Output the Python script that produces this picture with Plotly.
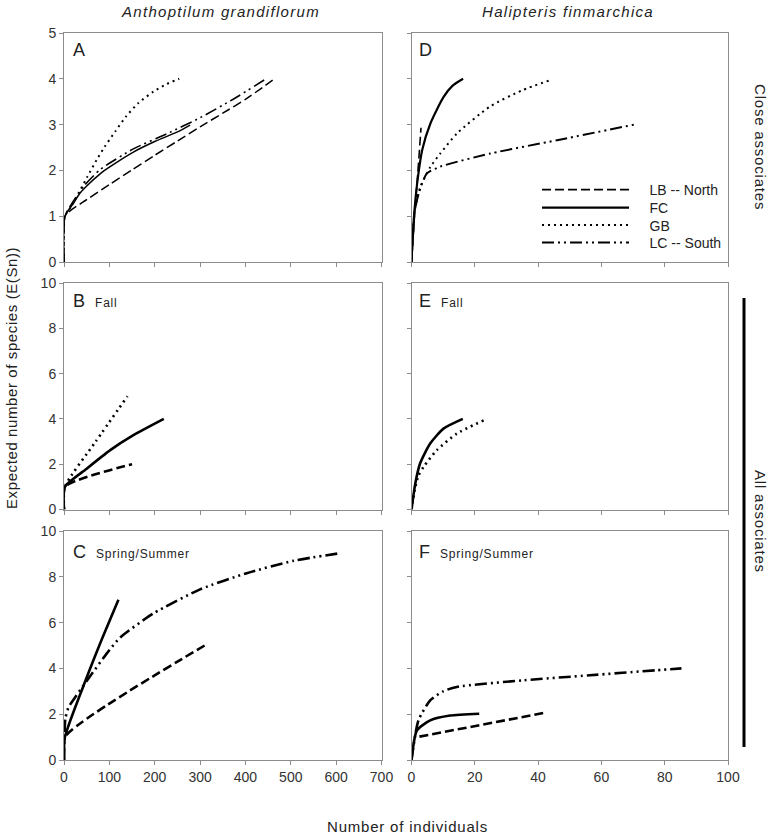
import plotly.graph_objects as go

W, H = 773, 836

# ---------------- data ----------------
# Panel A  (Anthoptilum grandiflorum, close associates)
A_LB_x = [0, 2, 50, 100, 150, 200, 250, 300, 350, 400, 460]
A_LB_y = [0, 1, 1.36, 1.69, 2.01, 2.33, 2.64, 2.95, 3.25, 3.55, 3.97]
A_FC_x = [0, 2, 20, 35, 50, 79, 100, 153, 200, 250, 278]
A_FC_y = [0, 1, 1.27, 1.5, 1.66, 1.92, 2.07, 2.4, 2.63, 2.84, 2.99]
A_GB_x = [0, 2, 13, 32, 52, 72, 90, 113, 137, 164, 197, 225, 254]
A_GB_y = [0, 1, 1.17, 1.5, 1.87, 2.23, 2.52, 2.85, 3.18, 3.47, 3.72, 3.88, 4.0]
A_LC_x = [0, 2, 13, 43, 80, 153, 227, 300, 374, 444]
A_LC_y = [0, 1, 1.21, 1.65, 2.02, 2.47, 2.8, 3.15, 3.56, 3.99]

# Panel D  (Halipteris finmarchica, close associates)
D_LB_x = [0, 1, 2, 3]
D_LB_y = [0, 1.05, 1.95, 2.93]
D_FC_x = [0, 0.8, 1.8, 3.4, 6, 10.1, 13, 16.3]
D_FC_y = [0, 1.0, 1.72, 2.45, 3.03, 3.6, 3.85, 4.0]
D_GB_x = [0, 1, 2.8, 6, 9.1, 14.4, 24.9, 35, 43.8]
D_GB_y = [0, 1.1, 1.64, 2.08, 2.37, 2.81, 3.4, 3.75, 3.97]
D_LC_x = [0, 1, 2.3, 4.8, 9, 25, 46, 70.4]
D_LC_y = [0, 1.1, 1.5, 1.93, 2.08, 2.37, 2.66, 3.0]

# Panel B  (Anthoptilum, all associates, Fall)
B_GB_x = [0, 2, 70, 140]
B_GB_y = [0, 1, 3.0, 5.0]
B_FC_x = [0, 2, 50, 102, 153, 220]
B_FC_y = [0, 1, 1.8, 2.62, 3.28, 4.0]
B_LB_x = [0, 2, 150]
B_LB_y = [0, 1, 2.0]

# Panel C  (Anthoptilum, all associates, Spring/Summer)
C_FC_x = [0, 2, 50, 85, 120]
C_FC_y = [0, 1, 3.6, 5.35, 7.0]
C_LC_x = [0, 3, 10, 25, 50, 100, 124, 197, 300, 403, 506, 609]
C_LC_y = [0, 1.8, 2.3, 2.75, 3.45, 4.8, 5.35, 6.4, 7.45, 8.16, 8.7, 9.03]
C_LB_x = [0, 2, 310]
C_LB_y = [0, 1, 5.0]

# Panel E  (Halipteris, all associates, Fall)
E_FC_x = [0, 1.2, 2.7, 5.9, 10.1, 16.2]
E_FC_y = [0, 1.15, 2.03, 2.91, 3.57, 4.0]
E_GB_x = [0, 1.2, 2.2, 3.8, 8, 14.3, 22.9]
E_GB_y = [0, 1.0, 1.5, 1.88, 2.62, 3.35, 3.94]

# Panel F  (Halipteris, all associates, Spring/Summer)
F_LC_x = [0, 2.2, 5.9, 10, 14.3, 35.3, 56.4, 77.4, 85.3]
F_LC_y = [0, 1.73, 2.6, 3.0, 3.19, 3.48, 3.7, 3.92, 4.0]
F_FC_x = [0, 1.7, 5.9, 12.2, 21.4]
F_FC_y = [0, 1.29, 1.73, 1.94, 2.02]
F_LB_x = [2.5, 41.6]
F_LB_y = [1.02, 2.05]

series_names = {"LB": "LB -- North", "FC": "FC", "GB": "GB", "LC": "LC -- South"}
legend_order = ["LB", "FC", "GB", "LC"]
left_xticks = [0, 100, 200, 300, 400, 500, 600, 700]
right_xticks = [0, 20, 40, 60, 80, 100]
top_yticks = [0, 1, 2, 3, 4, 5]
low_yticks = [0, 2, 4, 6, 8, 10]

# ---------------- styling ----------------
FONT = "Liberation Sans, Arial, sans-serif"
TXT = "#222222"
dashes = {"LB": "9px,4px", "FC": "solid", "GB": "2px,4px",
          "LC": "12px,4px,2px,4px,2px,4px"}


def PX(x):
    return x / W


def PY(y):
    return 1 - y / H


fig = go.Figure()
legend_ids = {k: ("legend" if i == 0 else "legend%d" % (i + 1))
              for i, k in enumerate(legend_order)}


def add(name, xs, ys, ax, width, legend=False):
    NB = "\u00a0" * 4
    fig.add_trace(go.Scatter(
        x=xs, y=ys, mode="lines", name=NB + series_names[name],
        line=dict(color="black", width=width, dash=dashes[name],
                  shape="spline", smoothing=0.6),
        xaxis="x" + ax, yaxis="y" + ax, showlegend=legend,
        legend=legend_ids[name], hoverinfo="skip"))


# A -> axis "" ; D -> 2 ; B -> 3 ; E -> 4 ; C -> 5 ; F -> 6
add("LB", A_LB_x, A_LB_y, "", 1.5)
add("FC", A_FC_x, A_FC_y, "", 1.5)
add("GB", A_GB_x, A_GB_y, "", 2.0)
add("LC", A_LC_x, A_LC_y, "", 1.6)

add("LB", D_LB_x, D_LB_y, "2", 1.6, True)
add("FC", D_FC_x, D_FC_y, "2", 2.2, True)
add("GB", D_GB_x, D_GB_y, "2", 2.0, True)
add("LC", D_LC_x, D_LC_y, "2", 2.0, True)

add("GB", B_GB_x, B_GB_y, "3", 2.6)
add("FC", B_FC_x, B_FC_y, "3", 2.6)
add("LB", B_LB_x, B_LB_y, "3", 2.6)

add("FC", C_FC_x, C_FC_y, "5", 2.6)
add("LC", C_LC_x, C_LC_y, "5", 2.6)
add("LB", C_LB_x, C_LB_y, "5", 2.6)

add("FC", E_FC_x, E_FC_y, "4", 2.6)
add("GB", E_GB_x, E_GB_y, "4", 2.6)

add("LC", F_LC_x, F_LC_y, "6", 2.6)
add("FC", F_FC_x, F_FC_y, "6", 2.6)
add("LB", F_LB_x, F_LB_y, "6", 2.6)

# domains in page pixels
colL = (64, 381.5)
colR = (411.5, 728)
rows = [(33, 262), (283, 509.5), (531, 760)]

axis_common = dict(showline=True, linecolor="#8c8c8c", linewidth=1, mirror=True,
                   showgrid=False, zeroline=False, ticks="outside", ticklen=4,
                   tickcolor="#8c8c8c", tickwidth=1, automargin=False,
                   tickfont=dict(family=FONT, size=14, color="#333333"),
                   fixedrange=True)

layout_axes = {}
panels = [("", colL, 0, [0, 700], left_xticks, [0, 5], top_yticks),
          ("2", colR, 0, [0, 100], right_xticks, [0, 5], top_yticks),
          ("3", colL, 1, [0, 700], left_xticks, [0, 10], low_yticks),
          ("4", colR, 1, [0, 100], right_xticks, [0, 10], low_yticks),
          ("5", colL, 2, [0, 700], left_xticks, [0, 10], low_yticks),
          ("6", colR, 2, [0, 100], right_xticks, [0, 10], low_yticks)]
for ax, col, r, xr, xt, yr, yt in panels:
    layout_axes["xaxis" + ax] = dict(axis_common, domain=[PX(col[0]), PX(col[1])],
                                     range=xr, tickvals=xt,
                                     showticklabels=(r == 2), anchor="y" + ax)
    layout_axes["yaxis" + ax] = dict(axis_common,
                                     domain=[PY(rows[r][1]), PY(rows[r][0])],
                                     range=yr, tickvals=yt,
                                     showticklabels=(col == colL), anchor="x" + ax)

fig.update_layout(**layout_axes)


def ann(text, px, py, size=15, angle=0, spacing=0.0, italic=False):
    t = "<span style='letter-spacing:%.1fpx'>%s</span>" % (spacing, text)
    if italic:
        t = "<i>%s</i>" % t
    return dict(text=t, x=PX(px), y=PY(py), xref="paper", yref="paper",
                showarrow=False, textangle=angle, xanchor="center",
                yanchor="middle", font=dict(family=FONT, size=size, color=TXT))


def label(letter, season, px, py):
    t = letter
    if season:
        t += ("  <span style='font-size:12px;letter-spacing:0.8px'>%s</span>"
              % season)
    return dict(text=t, x=PX(px), y=PY(py), xref="paper", yref="paper",
                showarrow=False, xanchor="left", yanchor="middle",
                font=dict(family=FONT, size=18, color=TXT))


annotations = [
    ann("Anthoptilum grandiflorum", 221, 11, 15, spacing=1.3, italic=True),
    ann("Halipteris finmarchica", 568, 11, 15, spacing=1.3, italic=True),
    ann("Number of individuals", 407, 826, 15, spacing=0.8),
    ann("Expected number of species (E(Sn))", 11, 378, 15, angle=-90, spacing=0.6),
    ann("Close associates", 761, 147, 15, angle=90, spacing=0.8),
    ann("All associates", 761, 521, 15, angle=90, spacing=0.8),
    label("A", "", 71, 50),
    label("D", "", 417, 50),
    label("B", "Fall", 71, 301),
    label("E", "Fall", 417, 301),
    label("C", "Spring/Summer", 71, 552),
    label("F", "Spring/Summer", 417, 552),
]

legend_rows = {"LB": 190, "FC": 208, "GB": 225.5, "LC": 243}
legends = {}
for k in legend_order:
    legends[legend_ids[k]] = dict(
        x=PX(537), y=PY(legend_rows[k]), xanchor="left", yanchor="middle",
        bgcolor="rgba(0,0,0,0)", itemwidth=87, borderwidth=0,
        font=dict(family=FONT, size=14, color=TXT))

fig.update_layout(
    width=W, height=H,
    margin=dict(l=0, r=0, t=0, b=0, pad=0),
    paper_bgcolor="white", plot_bgcolor="white",
    annotations=annotations,
    shapes=[dict(type="line", xref="paper", yref="paper",
                 x0=PX(744), x1=PX(744), y0=PY(298), y1=PY(747),
                 line=dict(color="black", width=3))],
    font=dict(family=FONT),
    **legends,
)

fig.write_html("out.html",
               config={"displayModeBar": False, "staticPlot": True},
               post_script="document.body.style.margin='0';"
                           "document.body.style.overflow='hidden';")
